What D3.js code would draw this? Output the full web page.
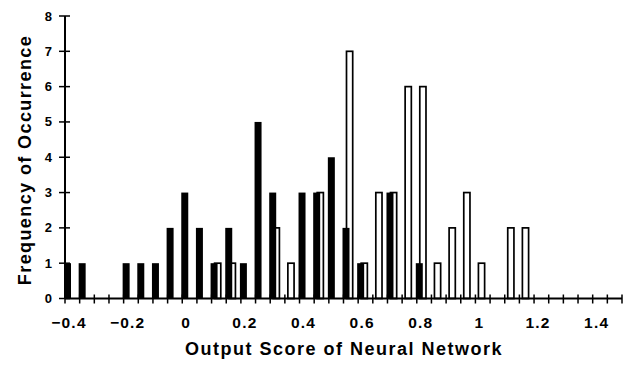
<!DOCTYPE html>
<html>
<head>
<meta charset="utf-8">
<script src="https://cdn.jsdelivr.net/npm/d3@7/dist/d3.min.js"></script>
<style>
  html, body { margin: 0; padding: 0; background: #fff; }
  svg { display: block; font-family: "Liberation Sans", Arial, Helvetica, sans-serif; font-weight: bold; }
</style>
</head>
<body>
<svg id="chart" width="625" height="368"></svg>
<script>
// bin starts of the histogram (width 0.05)
const binStarts = [-0.4, -0.35, -0.3, -0.25, -0.2, -0.15, -0.1, -0.05, 0, 0.05, 0.1, 0.15, 0.2, 0.25, 0.3, 0.35,
                   0.4, 0.45, 0.5, 0.55, 0.6, 0.65, 0.7, 0.75, 0.8, 0.85, 0.9, 0.95, 1.0, 1.05, 1.1, 1.15];
// filled bars
const blackCounts = [1, 1, 0, 0, 1, 1, 1, 2, 3, 2, 1, 2, 1, 5, 3, 0,
                     3, 3, 4, 2, 1, 0, 3, 0, 1, 0, 0, 0, 0, 0, 0, 0];
// open bars
const whiteCounts = [0, 0, 0, 0, 0, 0, 0, 0, 0, 0, 1, 1, 0, 0, 2, 1,
                     0, 3, 0, 7, 1, 3, 3, 6, 6, 1, 2, 3, 1, 0, 2, 2];

const xTickLabels = [-0.4, -0.2, 0, 0.2, 0.4, 0.6, 0.8, 1, 1.2, 1.4];
const yTickLabels = [0, 1, 2, 3, 4, 5, 6, 7, 8];

const svg = d3.select('#chart');

const x = d3.scaleLinear().domain([-0.4, 1.5]).range([65, 622]);
const y = d3.scaleLinear().domain([0, 8]).range([298.5, 16]);

const blackData = binStarts.map((b, i) => ({ bin: b, n: blackCounts[i] })).filter(d => d.n > 0);
const whiteData = binStarts.map((b, i) => ({ bin: b, n: whiteCounts[i] })).filter(d => d.n > 0);

// open bars sit behind, shifted right
svg.append('g')
    .selectAll('rect')
    .data(whiteData)
    .enter().append('rect')
    .attr('x', d => x(d.bin) + 3)
    .attr('y', d => y(d.n))
    .attr('width', 6.2)
    .attr('height', d => y(0) - y(d.n))
    .attr('fill', '#fff')
    .attr('stroke', '#000')
    .attr('stroke-width', 1.7);

svg.append('g')
    .selectAll('rect')
    .data(blackData)
    .enter().append('rect')
    .attr('x', d => x(d.bin) - 1)
    .attr('y', d => y(d.n))
    .attr('width', 7)
    .attr('height', d => y(0) - y(d.n))
    .attr('fill', '#000');

// x axis: line + crossing ticks every 0.05
const xAxis = svg.append('g');
xAxis.append('line')
    .attr('x1', x(-0.4)).attr('x2', x(1.5))
    .attr('y1', y(0)).attr('y2', y(0))
    .attr('stroke', '#000').attr('stroke-width', 2);
xAxis.selectAll('line.tick')
    .data(d3.range(0, 39).map(i => -0.4 + i * 0.05))
    .enter().append('line')
    .attr('class', 'tick')
    .attr('x1', d => x(d)).attr('x2', d => x(d))
    .attr('y1', y(0) - 4).attr('y2', y(0) + 5)
    .attr('stroke', '#000').attr('stroke-width', 1.5);
xAxis.selectAll('text')
    .data(xTickLabels)
    .enter().append('text')
    .attr('x', d => x(d) + 4)
    .attr('y', 328)
    .attr('text-anchor', 'middle')
    .attr('font-size', 15.5)
    .attr('letter-spacing', 1.2)
    .text(d => d3.format('')(d));

// y axis
const yAxis = svg.append('g');
yAxis.append('line')
    .attr('x1', x(-0.4)).attr('x2', x(-0.4))
    .attr('y1', y(8)).attr('y2', y(0))
    .attr('stroke', '#000').attr('stroke-width', 2);
yAxis.selectAll('line.tick')
    .data(yTickLabels)
    .enter().append('line')
    .attr('class', 'tick')
    .attr('x1', x(-0.4) - 6).attr('x2', x(-0.4) + 5)
    .attr('y1', d => y(d)).attr('y2', d => y(d))
    .attr('stroke', '#000').attr('stroke-width', 1.5);
yAxis.selectAll('text')
    .data(yTickLabels)
    .enter().append('text')
    .attr('x', 52)
    .attr('y', d => y(d) + 4.5)
    .attr('text-anchor', 'end')
    .attr('font-size', 13)
    .text(d => d);

// titles
svg.append('text')
    .attr('x', 344)
    .attr('y', 355)
    .attr('text-anchor', 'middle')
    .attr('font-size', 18)
    .attr('letter-spacing', 1.5)
    .text('Output Score of Neural Network');

svg.append('text')
    .attr('transform', 'translate(31, 160) rotate(-90)')
    .attr('text-anchor', 'middle')
    .attr('font-size', 18)
    .attr('letter-spacing', 1.4)
    .text('Frequency of Occurrence');
</script>
</body>
</html>
